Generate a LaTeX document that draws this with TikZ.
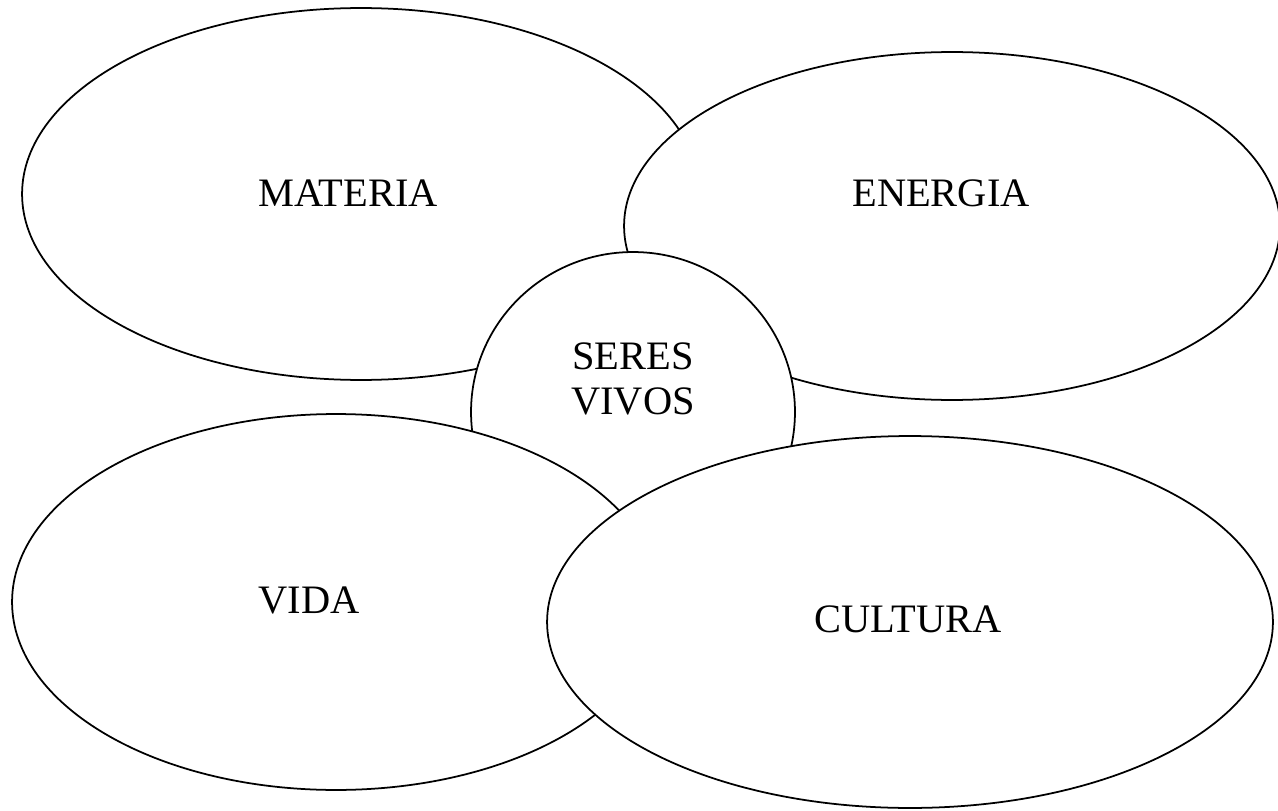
\documentclass[tikz,border=0pt]{standalone}
\usepackage{fontspec}
\setmainfont{Liberation Serif}
\usetikzlibrary{shapes.geometric}

\begin{document}
\begin{tikzpicture}[x = 0.02cm, y = -0.02cm, line width = 1pt,
                        blob/.style = {ellipse, draw, fill = white, inner sep = 0pt},
                        word/.style = {font = \fontsize{23}{26}\selectfont, align = center}]
      \useasboundingbox (0, 0) rectangle (1278, 811);
      \node [blob, minimum width = 13.56cm, minimum height = 7.44cm] (materia) at (361, 194){};
      \node [blob, minimum width = 13.12cm, minimum height = 6.96cm] (energia) at (952, 226){};
      \node [blob, minimum width = 6.48cm, minimum height = 6.4cm] (seres) at (633, 412){};
      \node [blob, minimum width = 12.96cm, minimum height = 7.52cm] (vida) at (336, 602){};
      \node [blob, minimum width = 14.52cm, minimum height = 7.44cm] (cultura) at (910, 622){};
      \node [word] (tmateria) at (348, 193){MATERIA};
      \node [word] (tenergia) at (941, 193){ENERGIA};
      \node [word] (tseres) at (633, 379){SERES\\VIVOS};
      \node [word] (tvida) at (309, 600){VIDA};
      \node [word] (tcultura) at (908, 619){CULTURA};
    \end{tikzpicture}
\end{document}
